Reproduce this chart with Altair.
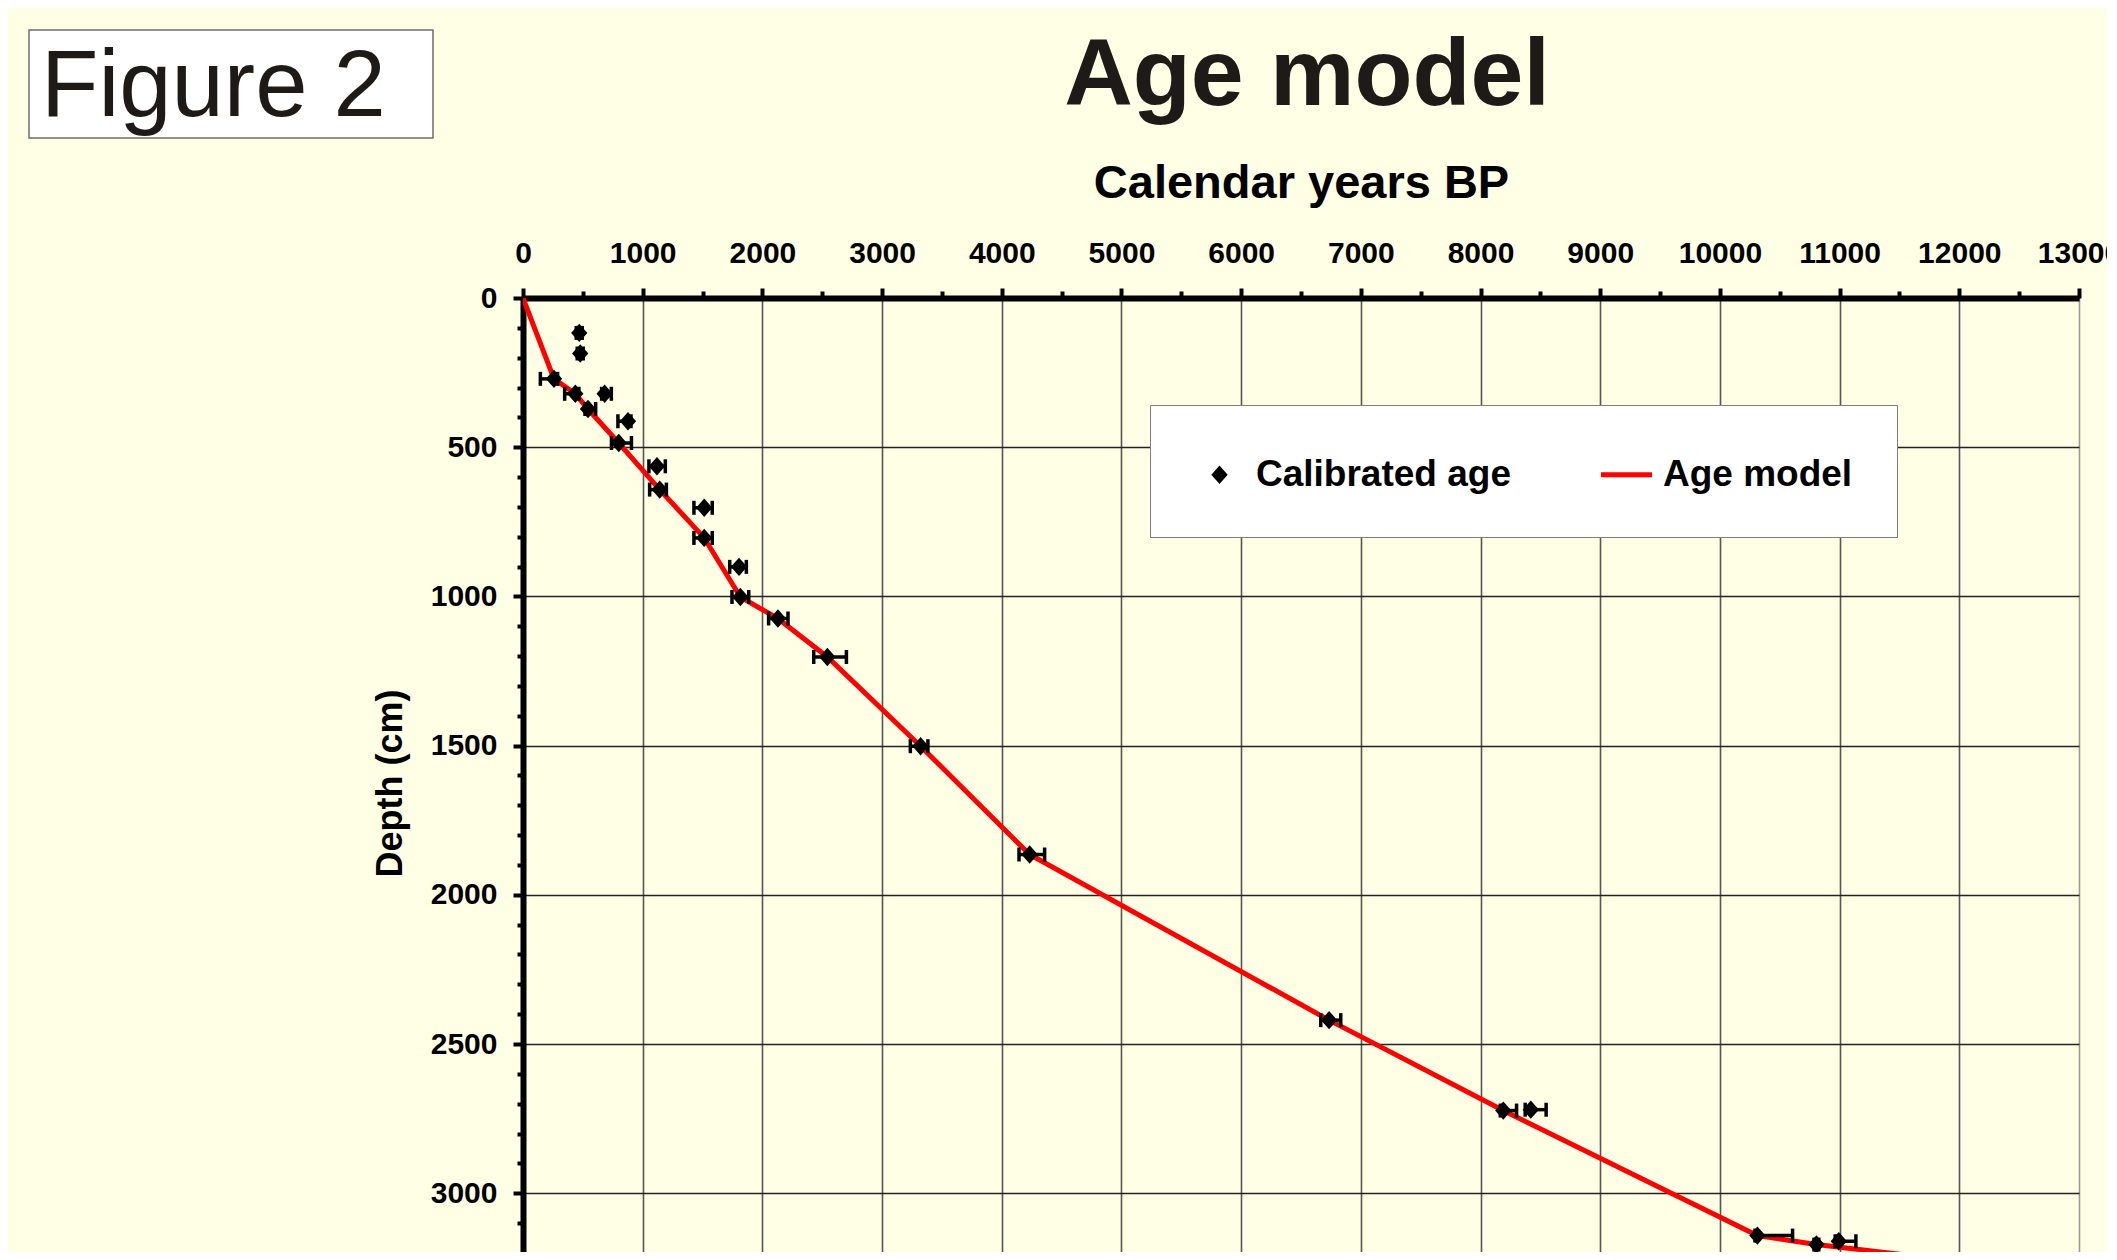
import altair as alt
import pandas as pd

FONT = "Liberation Sans"
BG = "#FFFFE5"

# ---- data ----
cal_age = [470, 478, 259, 437, 682, 543, 877, 800, 1119, 1142, 1514, 1514, 1805, 1816,
           2130, 2543, 3322, 4233, 6735, 8190, 8420, 10313, 10806, 10993, 12040]
cal_depth = [117, 186, 271, 321, 321, 372, 413, 486, 564, 642, 703, 804, 901, 1002,
             1074, 1203, 1502, 1865, 2420, 2723, 2720, 3142, 3172, 3161, 3232]
err_minus = [25, 25, 114, 89, 25, 25, 84, 61, 67, 84, 86, 86, 78, 70,
             78, 114, 86, 89, 70, 25, 47, 20, 20, 30, 30]
err_plus = [25, 25, 30, 30, 56, 64, 25, 106, 70, 56, 67, 67, 61, 70,
            84, 159, 61, 125, 97, 111, 128, 294, 20, 143, 253]

model_age = [0, 259, 437, 543, 800, 1142, 1514, 1816, 2130, 2543, 3322, 4233,
             6735, 8190, 10313, 10806, 11875, 12040]
model_depth = [0, 271, 321, 372, 486, 642, 804, 1002, 1074, 1203, 1502, 1865,
               2420, 2723, 3142, 3172, 3222, 3232]

series_names = ["Calibrated age", "Age model"]
series_colors = ["black", "#FF0000"]
x_tick_values = list(range(0, 13001, 500))
y_tick_values = list(range(0, 3101, 100))

cal_df = pd.DataFrame({
    "age": cal_age,
    "depth": cal_depth,
    "lo": [a - m for a, m in zip(cal_age, err_minus)],
    "hi": [a + p for a, p in zip(cal_age, err_plus)],
    "series": [series_names[0]] * len(cal_age),
})
model_df = pd.DataFrame({"age": model_age, "depth": model_depth,
                         "idx": list(range(len(model_age)))})
deco_df = pd.DataFrame({"fig": ["Figure 2"], "title": ["Age model"]})

# symbol shapes (unit square paths): diamond and a short thick line
DIAMOND = "M-0.32,0L0,-0.36L0.32,0L0,0.36Z"
LINE_SYM = "M-1,-0.1L1,-0.1L1,0.1L-1,0.1Z"

X_SCALE = alt.Scale(domain=[0, 13000], nice=False, zero=False)
Y_SCALE = alt.Scale(domain=[0, 3197], nice=False, zero=False, reverse=True)

x_axis = alt.Axis(
    orient="top", values=x_tick_values, format="d",
    labelExpr="datum.value % 1000 === 0 ? datum.label : ''",
    labelFont=FONT, labelFontSize=30, labelFontWeight="bold", labelColor="black",
    labelBaseline="alphabetic", labelPadding=26, labelFlush=False, labelOverlap=False,
    tickSize={"condition": {"test": "datum.value % 1000 === 0", "value": 10}, "value": 7},
    tickWidth=4, tickColor="black",
    domainWidth=6, domainColor="black",
    grid=True,
    gridColor={"condition": {"test": "datum.value === 13000", "value": "#9a9a9a"}, "value": "#555555"},
    gridWidth=1.6,
    gridOpacity={"condition": {"test": "datum.value % 1000 === 0", "value": 1}, "value": 0},
    title="Calendar years BP", titleFont=FONT, titleFontSize=47, titleFontWeight="bold",
    titleColor="black", titleBaseline="alphabetic", titleX=778, titleY=-101,
)
y_axis = alt.Axis(
    orient="left", values=y_tick_values, format="d",
    labelExpr="datum.value % 500 === 0 ? datum.label : ''",
    labelFont=FONT, labelFontSize=30, labelFontWeight="bold", labelColor="black",
    labelPadding=16, labelFlush=False, labelOverlap=False,
    tickSize={"condition": {"test": "datum.value % 500 === 0", "value": 10}, "value": 6},
    tickWidth=4, tickColor="black",
    domainWidth=6, domainColor="black",
    grid=True, gridColor="#222222", gridWidth=1.4,
    gridOpacity={"condition": {"test": "datum.value % 500 === 0", "value": 1}, "value": 0},
    title="Depth (cm)", titleFont=FONT, titleFontSize=36, titleFontWeight="bold",
    titleColor="black", titleAngle=270, titleAlign="center", titleBaseline="alphabetic",
    titleX=-122, titleY=485,
)

X = alt.X("age:Q", scale=X_SCALE, axis=x_axis)
Y = alt.Y("depth:Q", scale=Y_SCALE, axis=y_axis)
XLO = alt.X("lo:Q", scale=X_SCALE, axis=x_axis)
XHI = alt.X("hi:Q", scale=X_SCALE, axis=x_axis)

legend = alt.Legend(
    title=None, orient="none", legendX=627, legendY=107,
    direction="horizontal", columns=2, padding=44,
    fillColor="white", strokeColor="#7f7f7f",
    labelFont=FONT, labelFontSize=37, labelFontWeight="bold", labelColor="black",
    labelLimit=500, labelOffset=11, columnPadding=90,
    symbolSize=2600, symbolStrokeWidth=0, symbolOpacity=1,
)

# ---- decorations ----
fig_box = alt.Chart(deco_df).mark_rect(fill="white", stroke="#6e6e6e", strokeWidth=1.5).encode(
    x=alt.value(-494), x2=alt.value(-90), y=alt.value(-268), y2=alt.value(-160))
fig_text = alt.Chart(deco_df).mark_text(
    align="left", baseline="alphabetic", font=FONT, fontSize=94, color="#1e1a18"
).encode(x=alt.value(-482), y=alt.value(-182), text="fig:N")
title_text = alt.Chart(deco_df).mark_text(
    align="center", baseline="alphabetic", font=FONT, fontSize=95, fontWeight="bold", color="#1e1a18"
).encode(x=alt.value(784), y=alt.value(-193), text="title:N")

# ---- data layers ----
line = alt.Chart(model_df).mark_line(color="#FF0000", strokeWidth=5, clip=True).encode(
    x=X, y=Y, order="idx:Q")
err = alt.Chart(cal_df).mark_rule(color="black", strokeWidth=3.5, clip=True).encode(
    x=XLO, x2="hi:Q", y=Y)
cap_lo = alt.Chart(cal_df).mark_tick(orient="vertical", size=14, thickness=3.5, color="black",
                                     opacity=1, clip=True).encode(x=XLO, y=Y)
cap_hi = alt.Chart(cal_df).mark_tick(orient="vertical", size=14, thickness=3.5, color="black",
                                     opacity=1, clip=True).encode(x=XHI, y=Y)
pts = alt.Chart(cal_df).mark_point(filled=True, size=2600, opacity=1,
                                   strokeWidth=0, clip=True).encode(
    x=X, y=Y,
    shape=alt.Shape("series:N",
                    scale=alt.Scale(domain=series_names, range=[DIAMOND, LINE_SYM]),
                    legend=legend),
    color=alt.Color("series:N",
                    scale=alt.Scale(domain=series_names, range=series_colors),
                    legend=legend),
)

chart = alt.layer(fig_box, fig_text, title_text, line, err, cap_lo, cap_hi, pts).properties(
    width=1556, height=954,
    autosize=alt.AutoSizeParams(type="none"),
    padding={"left": 515, "top": 290, "right": 28, "bottom": 0},
    background=BG,
).configure_view(stroke=None, fill=BG).configure(font=FONT)

chart.save("out.html", embed_options={"renderer": "svg", "actions": False})
